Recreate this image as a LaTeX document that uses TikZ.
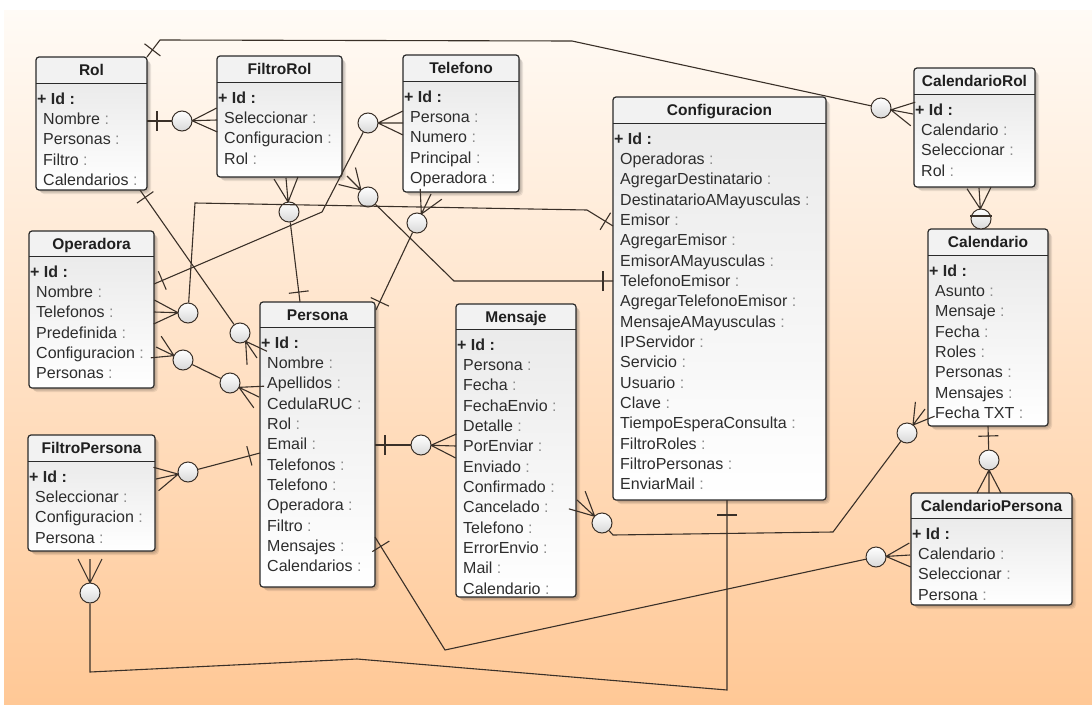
\documentclass[tikz,border=0pt]{standalone}
\usepackage{fontspec}
\setmainfont{Liberation Sans}
\usetikzlibrary{calc}
\definecolor{lnc}{RGB}{58,48,40}
\definecolor{bordc}{RGB}{42,42,42}
\definecolor{txtc}{RGB}{45,45,45}
\definecolor{bgtop}{RGB}{255,251,246}
\definecolor{bgbot}{RGB}{255,200,150}
\tikzset{
  conn/.style={draw=lnc, line width=1.1pt},
  zc/.style={circle, draw=lnc, line width=1pt, minimum size=20pt, inner sep=0pt, top color=white, bottom color=gray!30},
  hdrfill/.style={fill=gray!10},
  bord/.style={draw=bordc},
  ttl/.style={font=\fontsize{15.5}{18}\selectfont\bfseries, text=black!88, inner sep=0pt},
  idf/.style={font=\fontsize{16}{19}\selectfont\bfseries, text=black!85, inner sep=0pt, anchor=base west},
  fld/.style={font=\fontsize{16}{19}\selectfont, text=txtc, inner sep=0pt, anchor=base west},
}
\newcommand\entity[8]{%
  \foreach \s in {1,...,4}{\fill[black,opacity=0.08,rounded corners=4pt] (#2+\s,#3+\s) rectangle (#4+\s,#6+\s);}
  \node[inner sep=0pt, outer sep=0pt, minimum width={(#4-#2)*1pt}, minimum height={(#6-#3)*1pt}, anchor=north west] (#1) at (#2,#3) {};
  \begin{scope}
    \clip[rounded corners=3pt] (#2,#3) rectangle (#4,#6);
    \fill[hdrfill] (#2,#3) rectangle (#4,#5);
    \shade[top color=gray!16, bottom color=white] (#2,#5) rectangle (#4,#6);
  \end{scope}
  \draw[bord, line width=1.2pt, rounded corners=3pt] (#2,#3) rectangle (#4,#6);
  \draw[bord, line width=1pt] (#2,#5) -- (#4,#5);
  \node[ttl, anchor=base] at ({(#2+#4)/2},{(#3+#5)/2+5.5}) {#7};
  \node[idf] at (#2+1,#5+21) {+ Id :};
  \foreach \f [count=\i] in {#8}{\node[fld] at (#2+7,{#5+21+\i*20.35}) {\f\ {\color{black!45}:}};}
}
\newcommand\onemark[3]{%
  \path ($(#1)!#3!(#2)$) coordinate (bmtmp);
  \draw[conn] ($(bmtmp)!10pt!90:(#2)$) -- ($(bmtmp)!10pt!-90:(#2)$);}
\newcommand\crowfoot[2]{%
  \path ($(#1)!10pt!(#2)$) coordinate (cftmp);
  \draw[conn] (cftmp) -- (#2) (cftmp) -- ($(#2)!12pt!90:(#1)$) (cftmp) -- ($(#2)!12pt!-90:(#1)$);}
\begin{document}
\begin{tikzpicture}[x=1pt,y=-1pt]
\useasboundingbox (0,0) rectangle (1092,704);
\fill[white] (0,0) rectangle (1092,704);
\shade[top color=bgtop, bottom color=bgbot] (4,10) rectangle (1092,704);

\entity{rol}{36}{57}{147}{83}{190}{Rol}{Nombre,Personas,Filtro,Calendarios}
\entity{filtrorol}{217}{56}{342}{82}{177}{FiltroRol}{Seleccionar,Configuracion,Rol}
\entity{telefono}{403}{55}{519}{81}{192}{Telefono}{Persona,Numero,Principal,Operadora}
\entity{config}{613}{97}{826}{123}{500}{Configuracion}{Operadoras,AgregarDestinatario,DestinatarioAMayusculas,Emisor,AgregarEmisor,EmisorAMayusculas,TelefonoEmisor,AgregarTelefonoEmisor,MensajeAMayusculas,IPServidor,Servicio,Usuario,Clave,TiempoEsperaConsulta,FiltroRoles,FiltroPersonas,EnviarMail}
\entity{calrol}{914}{68}{1035}{94}{187}{CalendarioRol}{Calendario,Seleccionar,Rol}
\entity{calendario}{928}{229}{1048}{255}{426}{Calendario}{Asunto,Mensaje,Fecha,Roles,Personas,Mensajes,Fecha TXT}
\entity{calpersona}{911}{493}{1072}{518}{605}{CalendarioPersona}{Calendario,Seleccionar,Persona}
\entity{operadora}{29}{231}{154}{256}{388}{Operadora}{Nombre,Telefonos,Predefinida,Configuracion,Personas}
\entity{persona}{260}{302}{375}{327}{587}{Persona}{Nombre,Apellidos,CedulaRUC,Rol,Email,Telefonos,Telefono,Operadora,Filtro,Mensajes,Calendarios}
\entity{filtropersona}{28}{435}{155}{461}{551}{FiltroPersona}{Seleccionar,Configuracion,Persona}
\entity{mensaje}{456}{304}{576}{329}{597}{Mensaje}{Persona,Fecha,FechaEnvio,Detalle,PorEnviar,Enviado,Confirmado,Cancelado,Telefono,ErrorEnvio,Mail,Calendario}

% circles
\node[zc] (z1) at (881,108) {};
\node[zc] (z2) at (182,121) {};
\node[zc] (z3) at (289,212) {};
\node[zc] (z4) at (368,197) {};
\node[zc] (z5) at (368,123) {};
\node[zc] (z6) at (417,223) {};
\node[zc] (z7) at (188,313) {};
\node[zc] (z8) at (240,333) {};
\node[zc] (z9a) at (183,360) {};
\node[zc] (z9b) at (230,383) {};
\node[zc] (z10) at (188,472) {};
\node[zc] (z11) at (90,593) {};
\node[zc] (z12) at (421,445) {};
\node[zc] (z13) at (876,557) {};
\node[zc] (z14a) at (602,523) {};
\node[zc] (z14b) at (907,433) {};
\node[zc] (z15) at (989,460) {};
\node[zc] (z16) at (981,219) {};

% C1 Rol - CalendarioRol
\coordinate (rolNE) at (147,57);
\coordinate (c1a) at (160,40);
\coordinate (c1b) at (572,41);
\coordinate (m1) at (913,114);
\draw[conn] (rolNE) -- (c1a) -- (c1b) -- (z1);
\onemark{rolNE}{c1a}{9pt}
\crowfoot{z1}{m1}

% C2 Rol - FiltroRol
\coordinate (rolE) at (147,121);
\coordinate (m2) at (217,120);
\draw[conn] (rolE) -- (z2);
\onemark{rolE}{z2}{10pt}
\crowfoot{z2}{m2}

% C3 FiltroRol - Persona
\coordinate (m3) at (286,178);
\coordinate (perN) at (300,302);
\draw[conn] (z3) -- (perN);
\onemark{perN}{z3}{10pt}
\crowfoot{z3}{m3}

% C4 FiltroRol - Configuracion
\coordinate (m4) at (347,176);
\coordinate (c4a) at (454,281);
\coordinate (cfgW1) at (613,281);
\draw[conn] (z4) -- (c4a) -- (cfgW1);
\onemark{cfgW1}{c4a}{10pt}
\crowfoot{z4}{m4}

% C5 Operadora - Telefono
\coordinate (opE1) at (154,284);
\coordinate (c5a) at (322,212);
\coordinate (m5) at (403,123);
\draw[conn] (opE1) -- (c5a) -- (z5);
\onemark{opE1}{c5a}{9pt}
\crowfoot{z5}{m5}

% C6 Telefono - Persona
\coordinate (m6) at (431,194);
\coordinate (perNE) at (376,310);
\draw[conn] (z6) -- (perNE);
\onemark{perNE}{z6}{9pt}
\crowfoot{z6}{m6}

% C7 Operadora - Configuracion
\coordinate (m7) at (154,312);
\coordinate (c7a) at (195,203);
\coordinate (c7b) at (587,210);
\coordinate (cfgW2) at (613,226);
\draw[conn] (z7) -- (c7a) -- (c7b) -- (cfgW2);
\onemark{cfgW2}{c7b}{9pt}
\crowfoot{z7}{m7}

% C8 Rol - Persona
\coordinate (rolS) at (140,190);
\coordinate (m8) at (257,358);
\draw[conn] (rolS) -- (z8);
\onemark{rolS}{z8}{9pt}
\crowfoot{z8}{m8}

% C9 Operadora - Persona
\coordinate (m9a) at (156,347);
\coordinate (m9b) at (259,397);
\draw[conn] (z9a) -- (z9b);
\crowfoot{z9a}{m9a}
\crowfoot{z9b}{m9b}

% C10 FiltroPersona - Persona
\coordinate (m10) at (156,479);
\coordinate (perW) at (260,453);
\draw[conn] (z10) -- (perW);
\onemark{perW}{z10}{11pt}
\crowfoot{z10}{m10}

% C11 FiltroPersona - Configuracion
\coordinate (m11) at (90,559);
\coordinate (c11a) at (90,672);
\coordinate (c11b) at (357,659);
\coordinate (c11c) at (727,690);
\coordinate (cfgS) at (727,500);
\draw[conn] (z11) -- (c11a) -- (c11b) -- (c11c) -- (cfgS);
\onemark{cfgS}{c11c}{15pt}
\crowfoot{z11}{m11}

% C12 Persona - Mensaje
\coordinate (perE1) at (375,445);
\coordinate (m12) at (456,446);
\draw[conn] (perE1) -- (z12);
\onemark{perE1}{z12}{10pt}
\crowfoot{z12}{m12}

% C13 Persona - CalendarioPersona
\coordinate (perE2) at (375,537);
\coordinate (c13a) at (445,650);
\coordinate (m13) at (910,555);
\draw[conn] (perE2) -- (c13a) -- (z13);
\onemark{perE2}{c13a}{11pt}
\crowfoot{z13}{m13}

% C14 Mensaje - Calendario
\coordinate (m14a) at (577,500);
\coordinate (c14a) at (613,535);
\coordinate (c14b) at (833,532);
\coordinate (m14b) at (925,409);
\draw[conn] (z14a) -- (c14a) -- (c14b) -- (z14b);
\crowfoot{z14a}{m14a}
\crowfoot{z14b}{m14b}

% C15 Calendario - CalendarioPersona
\coordinate (calS) at (988,426);
\coordinate (m15) at (989,493);
\draw[conn] (calS) -- (z15);
\onemark{calS}{z15}{10pt}
\crowfoot{z15}{m15}

% C16 CalendarioRol - Calendario
\coordinate (m16) at (979,188);
\coordinate (b16a) at (970,216);
\coordinate (b16b) at (992,216);
\crowfoot{z16}{m16}
\draw[conn] (b16a) -- (b16b);
\end{tikzpicture}
\end{document}
